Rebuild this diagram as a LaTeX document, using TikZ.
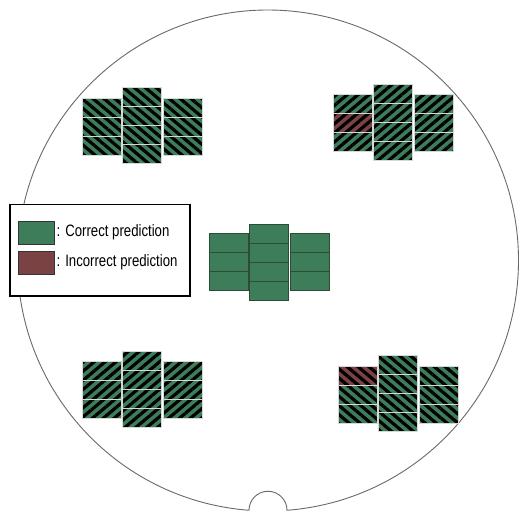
\documentclass[tikz,border=0pt]{standalone}
\usepackage{fontspec}
\newfontfamily\legfont[FakeStretch=0.8]{Liberation Sans}
\usetikzlibrary{patterns.meta}
\definecolor{wgreen}{RGB}{62,125,90}
\definecolor{wbrown}{RGB}{122,66,66}
\definecolor{waferline}{RGB}{105,105,105}
\definecolor{celledge}{RGB}{215,215,215}
\definecolor{darkedge}{RGB}{45,75,55}
\tikzset{
  plaincell/.style={fill=wgreen, draw=darkedge, line width=0.8pt},
  stripecell/.style={fill=wgreen,
    postaction={pattern={Lines[angle=#1,distance=7pt,line width=3.2pt]}, pattern color=black},
    postaction={draw=celledge, line width=0.9pt}},
  brownstripe/.style={stripecell=#1, fill=wbrown},
  wafer/.style={draw=waferline, line width=0.9pt},
  legendbox/.style={draw=black, line width=1.8pt, fill=white, inner sep=0pt},
  swatch/.style={draw=black!80, line width=0.8pt, inner sep=0pt, minimum width=36.5pt, minimum height=23pt},
  legtext/.style={font=\legfont\fontsize{16.5pt}{18pt}\selectfont, inner sep=0pt, anchor=west}
}
\newcommand\diegroup[4]{% #1 x0, #2 y0, #3 middle column offset, #4 cell style
  \foreach \c/\dy/\n in {0/0/3,1/#3/4,2/0/3}{
    \foreach \r in {1,...,\n}{
      \path[#4] ({#1+\c*40.5},{#2+\dy+(\r-1)*19}) rectangle ++(39,19);
    }
  }
}
\begin{document}
\begin{tikzpicture}[x=1pt,y=-1pt]
\useasboundingbox (0,0) rectangle (519,514);
% wafer outline with notch
\draw[wafer] (268,260.5) ++(94.35:250.5) arc[start angle=94.35, end angle=445.65, radius=250.5]
  arc[start angle=0, end angle=-180, radius=19] -- cycle;
% die groups
\diegroup{82}{98}{-11}{stripecell=-40}
\diegroup{333}{94}{-10}{stripecell=40}
\path[brownstripe=40] (333,113) rectangle ++(39,19);
\diegroup{209}{233.5}{-9.5}{plaincell}
\diegroup{82}{361}{-10}{stripecell=40}
\diegroup{338}{366}{-11}{stripecell=-40}
\path[brownstripe=-40] (338,366) rectangle ++(39,19);
% legend
\node[legendbox, minimum width=180pt, minimum height=91.5pt, anchor=north west] (legend) at (9,203.5) {};
\node[swatch, fill=wgreen, anchor=north west] (swg) at (17.5,221) {};
\node[swatch, fill=wbrown, anchor=north west] (swb) at (17.5,251) {};
\node[legtext] (lg1) at (56.5,232.5) {: Correct prediction};
\node[legtext] (lg2) at (56.5,262) {: Incorrect prediction};
\end{tikzpicture}
\end{document}
